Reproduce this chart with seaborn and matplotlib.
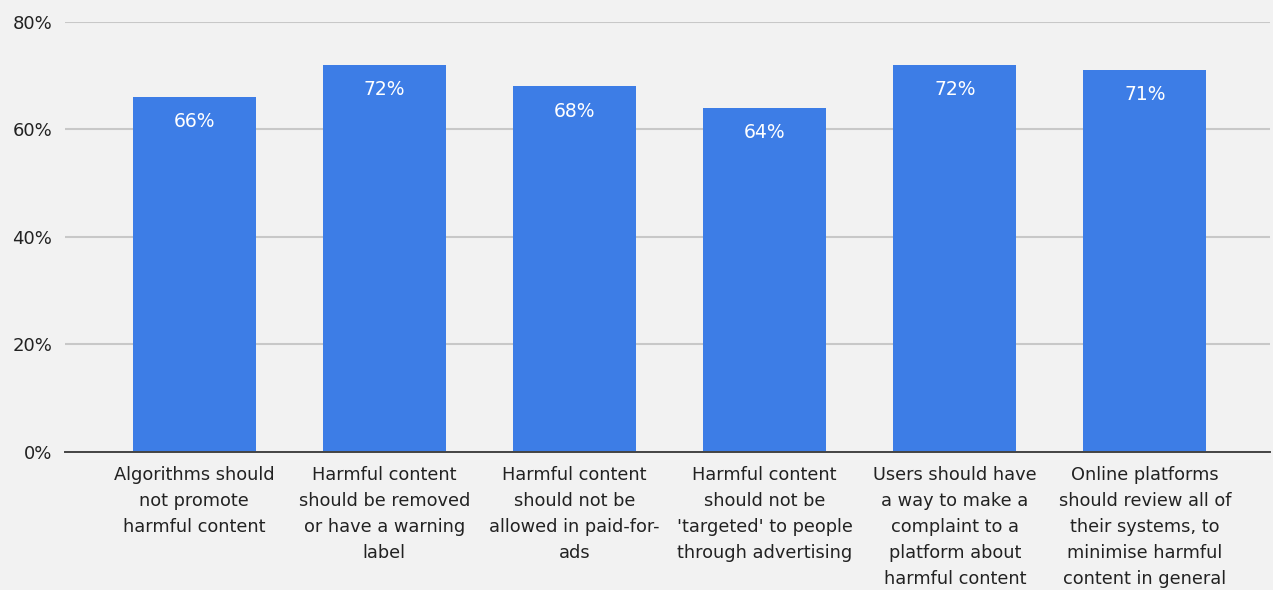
import matplotlib
matplotlib.use("Agg")
import matplotlib.pyplot as plt
import seaborn as sns
import pandas as pd

# Survey statements and share of respondents agreeing (%)
statements = [
    "Algorithms should\nnot promote\nharmful content",
    "Harmful content\nshould be removed\nor have a warning\nlabel",
    "Harmful content\nshould not be\nallowed in paid-for-\nads",
    "Harmful content\nshould not be\n'targeted' to people\nthrough advertising",
    "Users should have\na way to make a\ncomplaint to a\nplatform about\nharmful content",
    "Online platforms\nshould review all of\ntheir systems, to\nminimise harmful\ncontent in general",
]
agree_pct = [66, 72, 68, 64, 72, 71]
y_ticks = [0, 20, 40, 60, 80]
y_tick_labels = ["0%", "20%", "40%", "60%", "80%"]

bg = "#f2f2f2"
bar_color = "#3d7de6"

sns.set_theme(style="white")
plt.rcParams["font.family"] = ["DejaVu Sans"]

fig = plt.figure(figsize=(12.73, 5.90), dpi=100, facecolor=bg)
ax = fig.add_axes([0.051, 0.234, 0.947, 0.729], facecolor=bg)

df = pd.DataFrame({"statement": statements, "agree": agree_pct})
sns.barplot(data=df, x="statement", y="agree", color=bar_color,
            saturation=1, width=0.647, linewidth=0, ax=ax, zorder=3)

ax.set_ylim(0, 80)
ax.set_xlim(-0.68, 5.66)
ax.set_yticks(y_ticks)
ax.set_yticklabels(y_tick_labels, fontsize=13, color="#222222")
ax.tick_params(axis="y", length=0, pad=9)
ax.tick_params(axis="x", length=0, pad=10)
for lbl in ax.get_xticklabels():
    lbl.set_fontsize(12.8)
    lbl.set_color("#222222")
    lbl.set_linespacing(1.58)
    lbl.set_verticalalignment("top")

ax.set_xlabel("")
ax.set_ylabel("")
ax.grid(axis="y", color="#c8c8c8", linewidth=1.5, zorder=0)
ax.grid(axis="x", visible=False)
for side in ["top", "right", "left"]:
    ax.spines[side].set_visible(False)
ax.spines["bottom"].set_color("#444444")
ax.spines["bottom"].set_linewidth(1.4)
ax.spines["bottom"].set_zorder(4)

# value labels inside the top of each bar
for i, v in enumerate(agree_pct):
    ax.annotate(f"{v}%", xy=(i, v), xytext=(0, -11), textcoords="offset points",
                ha="center", va="top", color="white", fontsize=13.5, zorder=5)

fig.savefig("out.png", dpi=100, facecolor=bg)
